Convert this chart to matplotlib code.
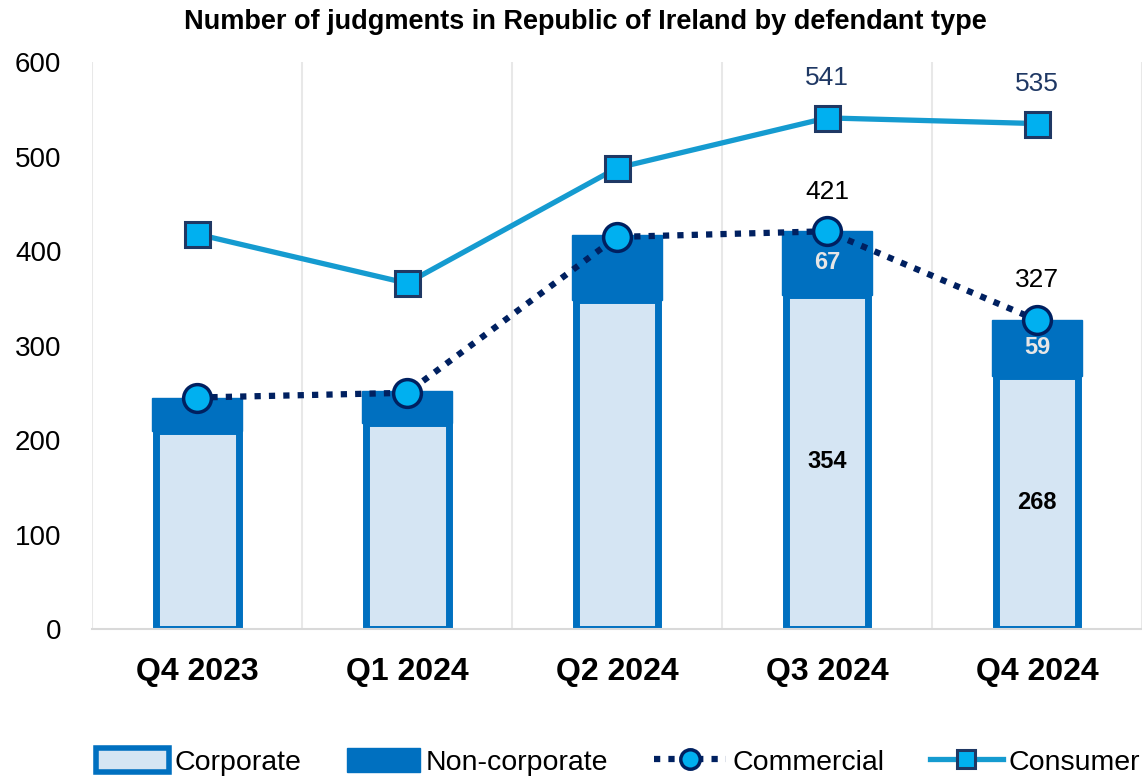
import matplotlib.pyplot as plt
from matplotlib.lines import Line2D
from matplotlib.patches import Patch
import numpy as np

quarters = ['Q4 2023', 'Q1 2024', 'Q2 2024', 'Q3 2024', 'Q4 2024']
corporate = [210, 218, 348, 354, 268]
non_corporate = [35, 34, 69, 67, 59]
commercial = [245, 250, 415, 421, 327]
consumer = [418, 366, 488, 541, 535]

# only the last two quarters carry labels in the original
labelled = [3, 4]

plt.rcParams['font.family'] = ['Liberation Sans', 'DejaVu Sans']

fig = plt.figure(figsize=(11.42, 7.77), dpi=100)
ax = fig.add_axes([0.0806, 0.1905, 0.9194, 0.7295])

x = np.arange(len(quarters))

ax.bar(x, corporate, 0.395, color='#d5e5f3', edgecolor='#0070c0', linewidth=5, zorder=2)
ax.bar(x, non_corporate, 0.43, bottom=corporate, color='#0070c0', edgecolor='#0070c0',
       linewidth=1, zorder=3)

ax.plot(x, consumer, color='#159bd0', lw=3.8, marker='s', ms=18, mfc='#00b0f0',
        mec='#1f3864', mew=2.2, zorder=4)
ax.plot(x, commercial, color='#002060', lw=4.5, ls=(0, (1, 1.3)), marker='o', ms=20,
        mfc='#00b0f0', mec='#002060', mew=2.5, zorder=5)

for i in labelled:
    ax.text(x[i], consumer[i] + 42, str(consumer[i]), ha='center', va='center',
            fontsize=19, color='#1f3864')
    ax.text(x[i], commercial[i] + 42, str(commercial[i]), ha='center', va='center',
            fontsize=19, color='black')
    ax.text(x[i], corporate[i] + non_corporate[i] / 2, str(non_corporate[i]), ha='center',
            va='center', fontsize=17, fontweight='bold', color='#e7e6e6', zorder=6)
    ax.text(x[i], corporate[i] / 2, str(corporate[i]), ha='center', va='center',
            fontsize=17, fontweight='bold', color='black', zorder=6)

ax.set_xlim(-0.5, 4.45)
ax.set_ylim(0, 600)
ax.set_yticks(range(0, 601, 100))
ax.set_xticks(x)
ax.set_xticklabels(quarters, fontsize=23, fontweight='bold')
ax.tick_params(axis='y', labelsize=20, length=0, pad=22)
ax.tick_params(axis='x', length=0, pad=20)

ax.set_xticks(np.arange(-0.5, 4.6, 0.5), minor=True)
ax.tick_params(axis='x', which='minor', length=0)
ax.grid(axis='x', which='minor', color='#e8e8e8', lw=1.5, zorder=0)
ax.grid(axis='y', visible=False)

for s in ['top', 'right', 'left']:
    ax.spines[s].set_visible(False)
ax.spines['bottom'].set_color('#d9d9d9')
ax.spines['bottom'].set_linewidth(1.5)

fig.text(0.513, 0.972, 'Number of judgments in Republic of Ireland by defendant type',
         ha='center', va='center', fontsize=19.5, fontweight='bold')

handles = [
    Patch(facecolor='#d5e5f3', edgecolor='#0070c0', linewidth=4),
    Patch(facecolor='#0070c0', edgecolor='#0070c0'),
    Line2D([], [], color='#002060', lw=4.5, ls=(0, (1, 1.3)), marker='o', ms=14,
           mfc='#00b0f0', mec='#002060', mew=2.5),
    Line2D([], [], color='#159bd0', lw=3.8, marker='s', ms=13, mfc='#00b0f0',
           mec='#1f3864', mew=2.2),
]
fig.legend(handles, ['Corporate', 'Non-corporate', 'Commercial', 'Consumer'],
           loc='center left', bbox_to_anchor=(0.084, 0.019), ncol=4, frameon=False,
           fontsize=20.5, handlelength=2.56, handleheight=0.91, handletextpad=0.2,
           columnspacing=1.6, borderpad=0, borderaxespad=0)

fig.savefig('out.png', dpi=100)
